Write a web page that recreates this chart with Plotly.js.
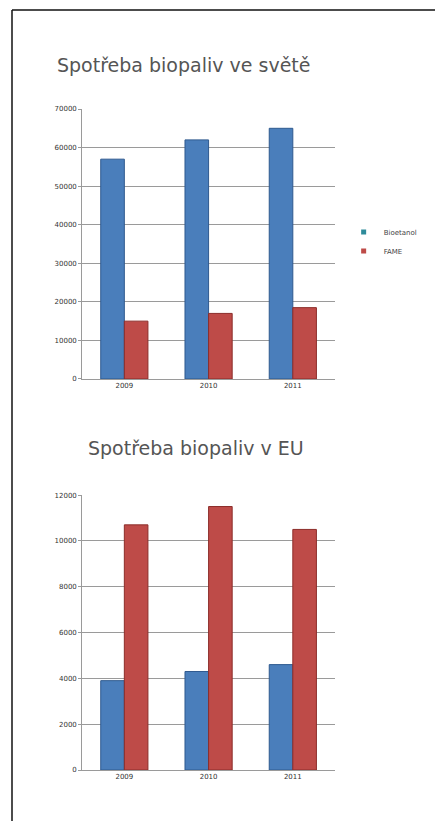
<!DOCTYPE html>
<html>
<head>
<meta charset="utf-8">
<script src="https://cdn.plot.ly/plotly-3.0.1.min.js"></script>
<style>
html,body{margin:0;padding:0;background:#fff;}
#chart{width:435px;height:821px;}
</style>
</head>
<body>
<div id="chart"></div>
<script>
// Data
const years = ["2009", "2010", "2011"];
const seriesNames = ["Bioetanol", "FAME"];
const worldBioetanol = [57000, 62000, 65000];
const worldFame = [15000, 17000, 18500];
const euBioetanol = [3900, 4300, 4600];
const euFame = [10700, 11500, 10500];
const worldTicks = [0, 10000, 20000, 30000, 40000, 50000, 60000, 70000];
const euTicks = [0, 2000, 4000, 6000, 8000, 10000, 12000];
const titleWorld = "Spotřeba biopaliv ve světě";
const titleEU = "Spotřeba biopaliv v EU";

const blue = "#4a7ebb";
const red = "#be4b48";
const blueEdge = "#2f5a8f";
const redEdge = "#8c2d2a";

const traces = [
  {type: "bar", x: years, y: worldBioetanol, name: seriesNames[0], xaxis: "x", yaxis: "y",
   marker: {color: blue, line: {color: blueEdge, width: 1}}, showlegend: false},
  {type: "bar", x: years, y: worldFame, name: seriesNames[1], xaxis: "x", yaxis: "y",
   marker: {color: red, line: {color: redEdge, width: 1}}, showlegend: false},
  {type: "bar", x: years, y: euBioetanol, name: seriesNames[0], xaxis: "x2", yaxis: "y2",
   marker: {color: blue, line: {color: blueEdge, width: 1}}, showlegend: false},
  {type: "bar", x: years, y: euFame, name: seriesNames[1], xaxis: "x2", yaxis: "y2",
   marker: {color: red, line: {color: redEdge, width: 1}}, showlegend: false},
  // legend entries (small square keys as in the original)
  {type: "scatter", mode: "markers", x: [null], y: [null], name: seriesNames[0], xaxis: "x", yaxis: "y",
   marker: {symbol: "square", size: 5, color: "#2e8b9a"}},
  {type: "scatter", mode: "markers", x: [null], y: [null], name: seriesNames[1], xaxis: "x", yaxis: "y",
   marker: {symbol: "square", size: 5, color: red}}
];

const tickFont = {family: "DejaVu Sans", size: 7, color: "#333"};
const axisCommon = {
  showgrid: true, gridcolor: "#9a9a9a", gridwidth: 1,
  showline: true, linecolor: "#9a9a9a", linewidth: 1,
  ticks: "outside", ticklen: 3, tickcolor: "#9a9a9a",
  tickfont: tickFont, zeroline: false, fixedrange: true
};
const xCommon = {
  showgrid: false, showline: true, linecolor: "#9a9a9a", linewidth: 1,
  ticks: "", tickfont: tickFont, fixedrange: true
};

const layout = {
  width: 435, height: 821,
  margin: {l: 0, r: 0, t: 0, b: 0},
  paper_bgcolor: "#ffffff", plot_bgcolor: "rgba(0,0,0,0)",
  barmode: "group", bargap: 0.44, bargroupgap: 0,
  showlegend: true,
  legend: {x: 0.79, y: 0.735, xanchor: "left", yanchor: "top",
           font: {family: "DejaVu Sans", size: 7, color: "#444"},
           itemwidth: 30, tracegroupgap: 2, bgcolor: "rgba(0,0,0,0)"},
  xaxis: Object.assign({}, xCommon, {domain: [0.189, 0.77], anchor: "y"}),
  yaxis: Object.assign({}, axisCommon, {domain: [0.5384, 0.8672], anchor: "x",
           range: [0, 70000], tickvals: worldTicks, ticktext: worldTicks.map(String)}),
  xaxis2: Object.assign({}, xCommon, {domain: [0.189, 0.77], anchor: "y2"}),
  yaxis2: Object.assign({}, axisCommon, {domain: [0.0621, 0.397], anchor: "x2",
           range: [0, 12000], tickvals: euTicks, ticktext: euTicks.map(String)}),
  annotations: [
    {text: titleWorld, xref: "paper", yref: "paper", x: 183/435, y: 1 - 65/821,
     xanchor: "center", yanchor: "middle", showarrow: false,
     font: {family: "DejaVu Sans", size: 19, color: "#555"}},
    {text: titleEU, xref: "paper", yref: "paper", x: 196/435, y: 1 - 448/821,
     xanchor: "center", yanchor: "middle", showarrow: false,
     font: {family: "DejaVu Sans", size: 19, color: "#555"}}
  ],
  shapes: [
    {type: "line", xref: "paper", yref: "paper", x0: 12/435, x1: 1, y0: 1 - 10/821, y1: 1 - 10/821,
     line: {color: "#111", width: 1.5}},
    {type: "line", xref: "paper", yref: "paper", x0: 12/435, x1: 12/435, y0: 0, y1: 1 - 10/821,
     line: {color: "#111", width: 1.5}}
  ]
};

Plotly.newPlot("chart", traces, layout, {displayModeBar: false, staticPlot: true});
</script>
</body>
</html>
